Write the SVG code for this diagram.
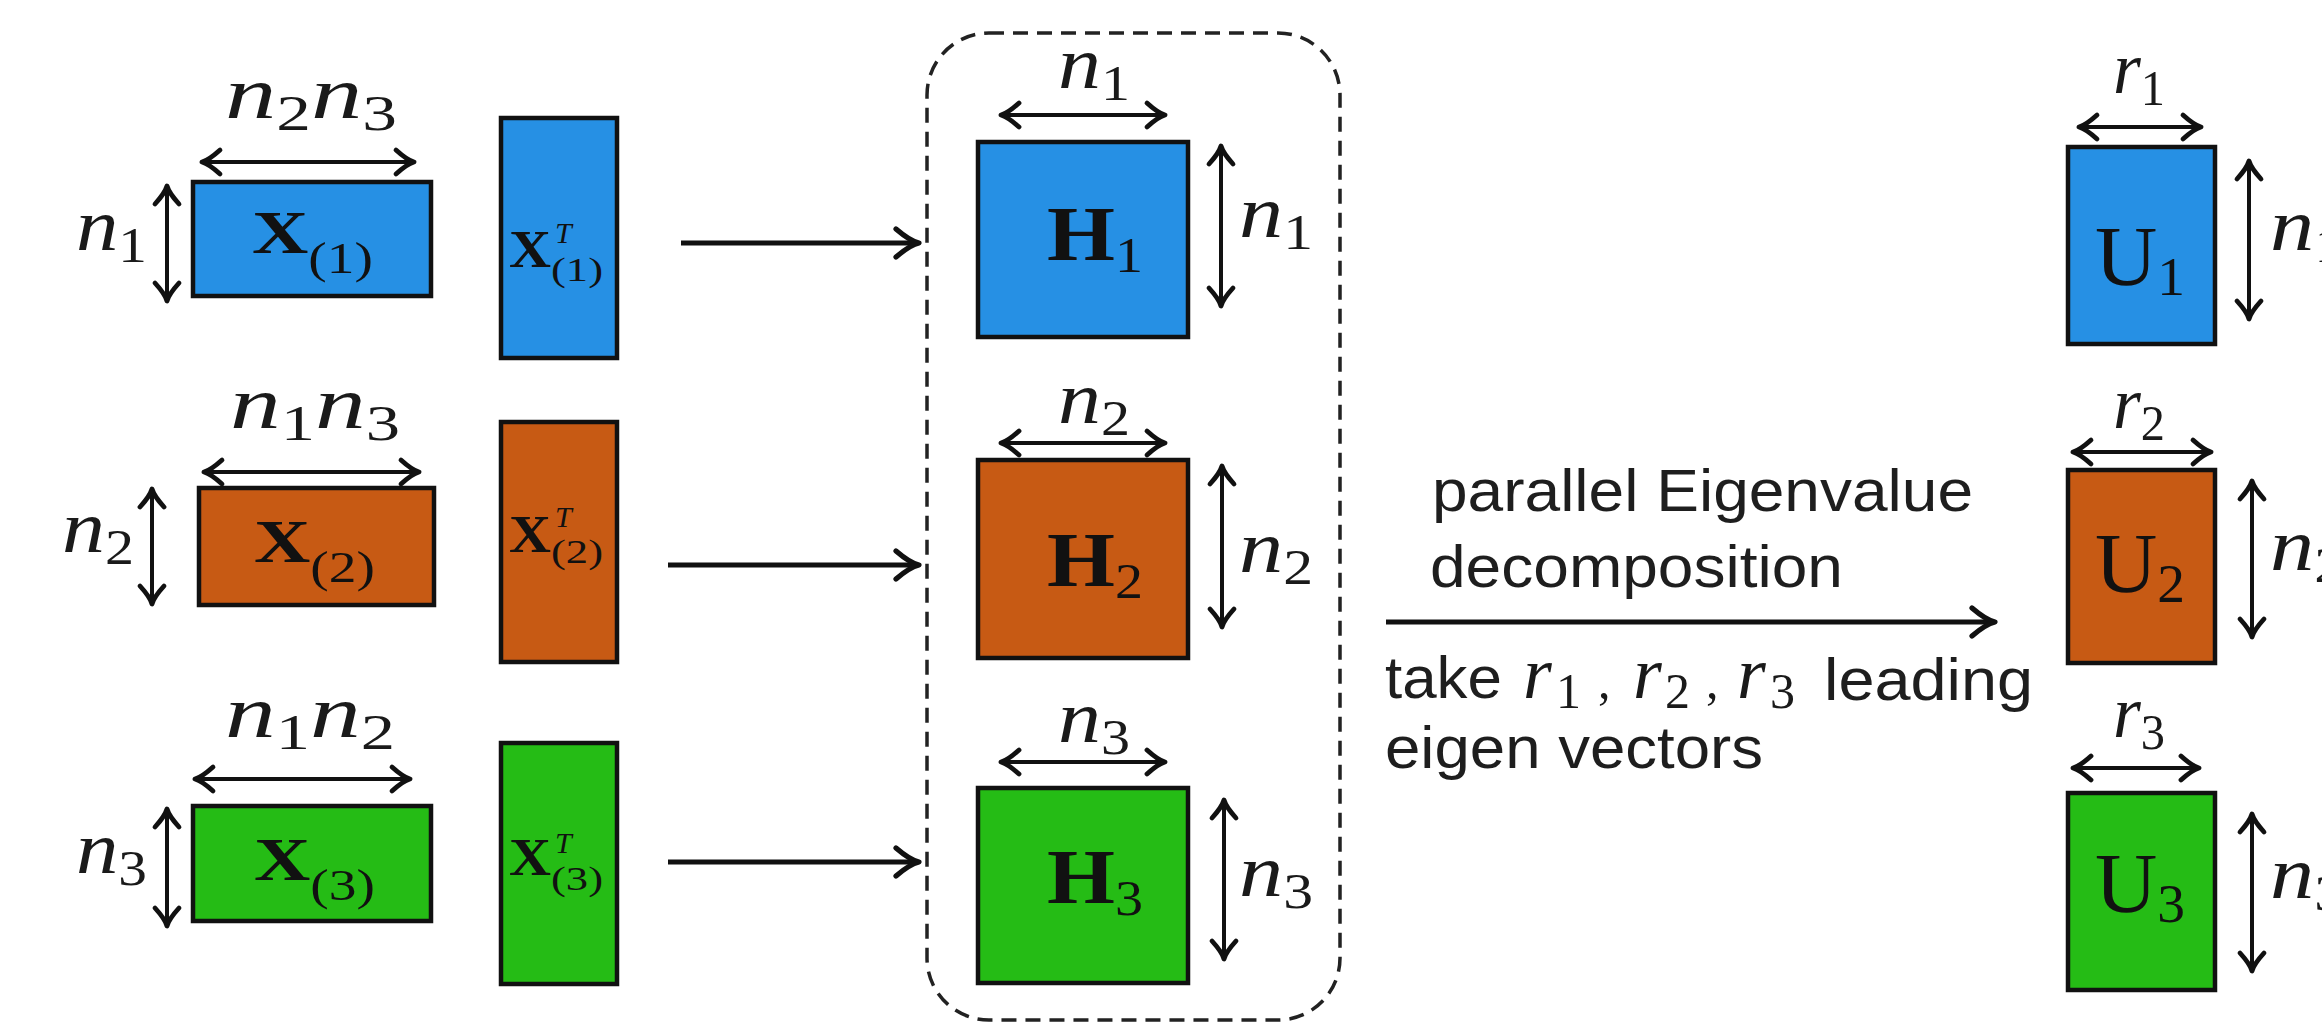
<svg xmlns="http://www.w3.org/2000/svg" width="2322" height="1026" viewBox="0 0 2322 1026">
  <defs>
    <style>
      .box { stroke: #111; stroke-width: 4.5; }
      .blue { fill: #2690E4; }
      .orange { fill: #C75A14; }
      .green { fill: #25BC15; }
      .dim { stroke: #111; stroke-width: 4; fill: none; marker-start: url(#tip); marker-end: url(#tip); }
      .conn { stroke: #111; stroke-width: 5; fill: none; marker-end: url(#bigtip); }
      .m { font-family: "Liberation Serif", "DejaVu Serif", serif; font-style: italic; font-size: 74px; fill: #1a1a1a; }
      .s { font-style: normal; font-size: 50px; }
      .b { font-family: "Liberation Serif", "DejaVu Serif", serif; font-weight: bold; fill: #111; }
      .sub { font-weight: normal; font-style: normal; }
      .u { font-family: "Liberation Serif", "DejaVu Serif", serif; fill: #111; }
      .t { font-family: "Liberation Sans", Arial, sans-serif; font-size: 60px; fill: #1e1e1e; }
    </style>
    <!-- open chevron tips used by the dimension arrows -->
    <marker id="tip" viewBox="-22 -16 26 32" refX="0" refY="0" markerWidth="26" markerHeight="32" markerUnits="userSpaceOnUse" orient="auto-start-reverse">
      <path d="M-17,-12 Q-6,-2 1,0 Q-6,2 -17,12" fill="none" stroke="#111" stroke-width="4.8" stroke-linecap="round" stroke-linejoin="round"/>
    </marker>
    <marker id="bigtip" viewBox="-28 -18 32 36" refX="0" refY="0" markerWidth="32" markerHeight="36" markerUnits="userSpaceOnUse" orient="auto">
      <path d="M-22,-14 Q-8,-2 1,0 Q-8,2 -22,14" fill="none" stroke="#111" stroke-width="5.2" stroke-linecap="round" stroke-linejoin="round"/>
    </marker>
  </defs>

  <rect width="2322" height="1026" fill="#ffffff"/>

  <!-- unfolded tensors X(k) -->
  <g id="X1">
    <rect class="box blue" x="193" y="182" width="238" height="114"/>
    <line class="dim" x1="203" y1="162" x2="413" y2="162"/>
    <line class="dim" x1="167" y1="187" x2="167" y2="300"/>
    <text class="m" x="225" y="118" textLength="172" lengthAdjust="spacingAndGlyphs">n<tspan class="s" dy="12">2</tspan><tspan dy="-12">n</tspan><tspan class="s" dy="12">3</tspan></text>
    <text class="m" x="76" y="250" textLength="71" lengthAdjust="spacingAndGlyphs">n<tspan class="s" dy="12">1</tspan></text>
    <text class="b" x="252" y="253" font-size="62" textLength="121" lengthAdjust="spacingAndGlyphs">X<tspan class="sub" font-size="44" dy="20">(1)</tspan></text>
  </g>
  <g id="X2">
    <rect class="box orange" x="199" y="488" width="235" height="117"/>
    <line class="dim" x1="205" y1="472" x2="418" y2="472"/>
    <line class="dim" x1="152" y1="490" x2="152" y2="603"/>
    <text class="m" x="230" y="428" textLength="170" lengthAdjust="spacingAndGlyphs">n<tspan class="s" dy="12">1</tspan><tspan dy="-12">n</tspan><tspan class="s" dy="12">3</tspan></text>
    <text class="m" x="62" y="552" textLength="72" lengthAdjust="spacingAndGlyphs">n<tspan class="s" dy="12">2</tspan></text>
    <text class="b" x="254" y="562" font-size="62" textLength="121" lengthAdjust="spacingAndGlyphs">X<tspan class="sub" font-size="44" dy="20">(2)</tspan></text>
  </g>
  <g id="X3">
    <rect class="box green" x="193" y="806" width="238" height="115"/>
    <line class="dim" x1="196" y1="779" x2="409" y2="779"/>
    <line class="dim" x1="167" y1="810" x2="167" y2="925"/>
    <text class="m" x="225" y="737" textLength="170" lengthAdjust="spacingAndGlyphs">n<tspan class="s" dy="12">1</tspan><tspan dy="-12">n</tspan><tspan class="s" dy="12">2</tspan></text>
    <text class="m" x="76" y="873" textLength="71" lengthAdjust="spacingAndGlyphs">n<tspan class="s" dy="12">3</tspan></text>
    <text class="b" x="254" y="880" font-size="62" textLength="121" lengthAdjust="spacingAndGlyphs">X<tspan class="sub" font-size="44" dy="20">(3)</tspan></text>
  </g>

  <!-- transposed unfoldings -->
  <g id="X1T">
    <rect class="box blue" x="501" y="118" width="116" height="240"/>
    <text class="b" x="509" y="267" font-size="52" textLength="42" lengthAdjust="spacingAndGlyphs">X</text>
    <text class="u" x="555" y="243" font-size="30" font-style="italic">T</text>
    <text class="u" x="551" y="281" font-size="34" textLength="52" lengthAdjust="spacingAndGlyphs">(1)</text>
  </g>
  <g id="X2T">
    <rect class="box orange" x="501" y="422" width="116" height="240"/>
    <text class="b" x="509" y="552" font-size="52" textLength="42" lengthAdjust="spacingAndGlyphs">X</text>
    <text class="u" x="555" y="527" font-size="30" font-style="italic">T</text>
    <text class="u" x="551" y="563" font-size="34" textLength="52" lengthAdjust="spacingAndGlyphs">(2)</text>
  </g>
  <g id="X3T">
    <rect class="box green" x="501" y="743" width="116" height="241"/>
    <text class="b" x="509" y="875" font-size="52" textLength="42" lengthAdjust="spacingAndGlyphs">X</text>
    <text class="u" x="555" y="853" font-size="30" font-style="italic">T</text>
    <text class="u" x="551" y="890" font-size="34" textLength="52" lengthAdjust="spacingAndGlyphs">(3)</text>
  </g>

  <!-- dashed frame around the Gram matrices -->
  <g id="Hgroup">
    <rect x="927" y="33" width="413" height="987" rx="62" ry="62" fill="none" stroke="#222" stroke-width="3.5" stroke-dasharray="15 9"/>
  </g>

  <!-- Gram matrices H_k -->
  <g id="H1">
    <rect class="box blue" x="978" y="142" width="210" height="195"/>
    <line class="dim" x1="1002" y1="115" x2="1164" y2="115"/>
    <line class="dim" x1="1221" y1="147" x2="1221" y2="305"/>
    <text class="m" x="1058" y="88" textLength="72" lengthAdjust="spacingAndGlyphs">n<tspan class="s" dy="12">1</tspan></text>
    <text class="m" x="1239" y="237" textLength="74" lengthAdjust="spacingAndGlyphs">n<tspan class="s" dy="12">1</tspan></text>
    <text class="b" x="1047" y="260" font-size="78" textLength="96" lengthAdjust="spacingAndGlyphs">H<tspan class="sub" font-size="50" dy="12">1</tspan></text>
  </g>
  <g id="H2">
    <rect class="box orange" x="978" y="460" width="210" height="198"/>
    <line class="dim" x1="1002" y1="443" x2="1164" y2="443"/>
    <line class="dim" x1="1222" y1="467" x2="1222" y2="626"/>
    <text class="m" x="1058" y="423" textLength="72" lengthAdjust="spacingAndGlyphs">n<tspan class="s" dy="12">2</tspan></text>
    <text class="m" x="1239" y="572" textLength="74" lengthAdjust="spacingAndGlyphs">n<tspan class="s" dy="12">2</tspan></text>
    <text class="b" x="1047" y="586" font-size="78" textLength="96" lengthAdjust="spacingAndGlyphs">H<tspan class="sub" font-size="50" dy="12">2</tspan></text>
  </g>
  <g id="H3">
    <rect class="box green" x="978" y="788" width="210" height="195"/>
    <line class="dim" x1="1002" y1="762" x2="1164" y2="762"/>
    <line class="dim" x1="1224" y1="801" x2="1224" y2="958"/>
    <text class="m" x="1058" y="742" textLength="72" lengthAdjust="spacingAndGlyphs">n<tspan class="s" dy="12">3</tspan></text>
    <text class="m" x="1239" y="896" textLength="74" lengthAdjust="spacingAndGlyphs">n<tspan class="s" dy="12">3</tspan></text>
    <text class="b" x="1047" y="903" font-size="78" textLength="96" lengthAdjust="spacingAndGlyphs">H<tspan class="sub" font-size="50" dy="12">3</tspan></text>
  </g>

  <!-- factor matrices U_k -->
  <g id="U1">
    <rect class="box blue" x="2068" y="147" width="147" height="197"/>
    <line class="dim" x1="2080" y1="127" x2="2200" y2="127"/>
    <line class="dim" x1="2249" y1="162" x2="2249" y2="318"/>
    <text class="m" x="2113" y="93" font-size="66" textLength="52" lengthAdjust="spacingAndGlyphs">r<tspan class="s" font-size="48" dy="12">1</tspan></text>
    <text class="m" x="2270" y="250" textLength="74" lengthAdjust="spacingAndGlyphs">n<tspan class="s" dy="12">1</tspan></text>
    <text class="u" x="2095" y="285" font-size="84" textLength="90" lengthAdjust="spacingAndGlyphs">U<tspan font-size="54" dy="10">1</tspan></text>
  </g>
  <g id="U2">
    <rect class="box orange" x="2068" y="470" width="147" height="193"/>
    <line class="dim" x1="2074" y1="452" x2="2210" y2="452"/>
    <line class="dim" x1="2252" y1="482" x2="2252" y2="636"/>
    <text class="m" x="2113" y="428" font-size="66" textLength="52" lengthAdjust="spacingAndGlyphs">r<tspan class="s" font-size="48" dy="12">2</tspan></text>
    <text class="m" x="2270" y="570" textLength="74" lengthAdjust="spacingAndGlyphs">n<tspan class="s" dy="12">2</tspan></text>
    <text class="u" x="2095" y="592" font-size="84" textLength="90" lengthAdjust="spacingAndGlyphs">U<tspan font-size="54" dy="10">2</tspan></text>
  </g>
  <g id="U3">
    <rect class="box green" x="2068" y="793" width="147" height="197"/>
    <line class="dim" x1="2074" y1="768" x2="2198" y2="768"/>
    <line class="dim" x1="2252" y1="815" x2="2252" y2="970"/>
    <text class="m" x="2113" y="737" font-size="66" textLength="52" lengthAdjust="spacingAndGlyphs">r<tspan class="s" font-size="48" dy="12">3</tspan></text>
    <text class="m" x="2270" y="898" textLength="74" lengthAdjust="spacingAndGlyphs">n<tspan class="s" dy="12">3</tspan></text>
    <text class="u" x="2095" y="912" font-size="84" textLength="90" lengthAdjust="spacingAndGlyphs">U<tspan font-size="54" dy="10">3</tspan></text>
  </g>

  <!-- connectors -->
  <g id="connectors">
    <line class="conn" x1="681" y1="243" x2="918" y2="243"/>
    <line class="conn" x1="668" y1="565" x2="918" y2="565"/>
    <line class="conn" x1="668" y1="862" x2="918" y2="862"/>
    <line class="conn" x1="1386" y1="622" x2="1994" y2="622"/>
  </g>

  <!-- label of the eigen-decomposition step -->
  <g id="evd-label">
    <text class="t" x="1432" y="511" textLength="541" lengthAdjust="spacingAndGlyphs">parallel Eigenvalue</text>
    <text class="t" x="1430" y="587" textLength="413" lengthAdjust="spacingAndGlyphs">decomposition</text>
    <text class="t" x="1385" y="698" textLength="117" lengthAdjust="spacingAndGlyphs">take</text>
    <text class="m" font-size="72"><tspan x="1523" y="698">r</tspan><tspan class="s" font-size="46" x="1556" y="708">1</tspan><tspan class="s" font-size="64" x="1598" y="698">,</tspan><tspan x="1633" y="698">r</tspan><tspan class="s" font-size="46" x="1665" y="708">2</tspan><tspan class="s" font-size="64" x="1706" y="698">,</tspan><tspan x="1737" y="698">r</tspan><tspan class="s" font-size="46" x="1770" y="708">3</tspan></text>
    <text class="t" x="1824" y="700" textLength="209" lengthAdjust="spacingAndGlyphs">leading</text>
    <text class="t" x="1385" y="768" textLength="378" lengthAdjust="spacingAndGlyphs">eigen vectors</text>
  </g>
</svg>
